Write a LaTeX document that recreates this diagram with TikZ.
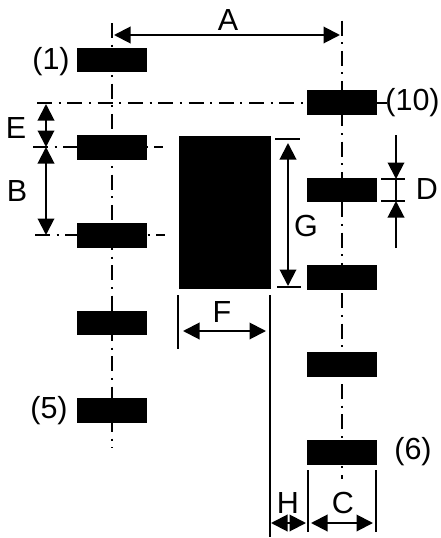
\documentclass[tikz,border=0pt]{standalone}
\usepackage{fontspec}
\setmainfont{Liberation Sans}
\usetikzlibrary{arrows.meta}
\tikzset{
    pad/.style={fill=black, inner sep=0pt, minimum width=70pt, minimum height=24.5pt},
    axisline/.style={line width=1.8pt, dash pattern=on 15pt off 6.6pt on 2pt off 6.7pt},
    dimline/.style={line width=2pt},
    dimarrow/.style={line width=2pt, {Triangle[length=16.5pt,width=16.5pt]}-{Triangle[length=16.5pt,width=16.5pt]}},
    oneway/.style={line width=2pt, -{Triangle[length=16.5pt,width=16.5pt]}},
    tag/.style={inner sep=0pt, font=\fontsize{30.5}{34}\selectfont}
}
\begin{document}
\begin{tikzpicture}[x=1pt, y=-1pt]

    % the frame
    \useasboundingbox (0, 0) rectangle (441, 538);

    % the ends of every line
    \foreach \name/\x/\y in {
        lt/112/23, lb/112/448, rt/342/20.5, rb/342/479,
        e1/37/103, e2/303/103, b1/33/147, b2/163/147, c1/35/235, c2/165/235,
        a1/114/35, a2/340/35,
        et/46/104, em/46/147, bb/46/235,
        g1/275/139, g2/299.5/139, g3/277/287, g4/301/287, gt/288/143, gb/288/286,
        d1/396/135, d2/396/179, d3/396/201, d4/396/248,
        d5/381/179, d6/405/179, d7/381/201, d8/405/201,
        t1/377/103, t2/387/103,
        f1/178/295, f2/178/349, f3/183/331, f4/266/331,
        h1/270/295, h2/270/537, h3/271/523, h4/306/523,
        k1/308/470, k2/308/532, k3/376/470, k4/376/532, k5/311/523, k6/373/523} {
        \coordinate (\name) at (\x, \y);
    }

    % the center lines
    \draw[axisline] (lt) -- (lb);
    \draw[axisline] (rt) -- (rb);
    \draw[axisline] (e1) -- (e2);
    \draw[axisline] (b1) -- (b2);
    \draw[axisline] (c1) -- (c2);

    % the pads
    \foreach \i/\y in {1/60, 2/147.5, 3/235.5, 4/323, 5/410.5} {
        \node[pad] (left\i) at (112, \y) {};
    }
    \foreach \i/\y in {1/102.5, 2/190, 3/277.5, 4/364.5, 5/452.5} {
        \node[pad] (right\i) at (342, \y) {};
    }

    % the body
    \node[fill=black, inner sep=0pt, minimum width=92pt, minimum height=153pt] (core) at (225, 212.5) {};

    % the dimensions
    \draw[dimarrow] (a1) -- (a2);
    \draw[dimarrow] (et) -- (em);
    \draw[dimarrow] (em) -- (bb);
    \draw[dimarrow] (gt) -- (gb);
    \draw[dimarrow] (f3) -- (f4);
    \draw[dimarrow] (h3) -- (h4);
    \draw[dimarrow] (k5) -- (k6);
    \draw[oneway] (d1) -- (d2);
    \draw[oneway] (d4) -- (d3);
    \draw[dimline] (d2) -- (d3);

    % the witness lines
    \foreach \from/\to in {g1/g2, g3/g4, d5/d6, d7/d8, t1/t2, f1/f2, h1/h2, k1/k2, k3/k4} {
        \draw[dimline] (\from) -- (\to);
    }

    % labels
    \node[tag] (la) at (228, 20) {A};
    \node[tag] (lb) at (17, 191) {B};
    \node[tag] (lc) at (343, 503) {C};
    \node[tag] (ld) at (427, 189) {D};
    \node[tag] (le) at (16, 128) {E};
    \node[tag] (lf) at (222, 312) {F};
    \node[tag] (lg) at (306, 226) {G};
    \node[tag] (lh) at (288, 503) {H};
    \node[tag] (n1) at (51, 62) {(1)};
    \node[tag] (n5) at (49, 411) {(5)};
    \node[tag] (n6) at (413, 452) {(6)};
    \node[tag] (n10) at (412.5, 103) {(10)};

\end{tikzpicture}
\end{document}
